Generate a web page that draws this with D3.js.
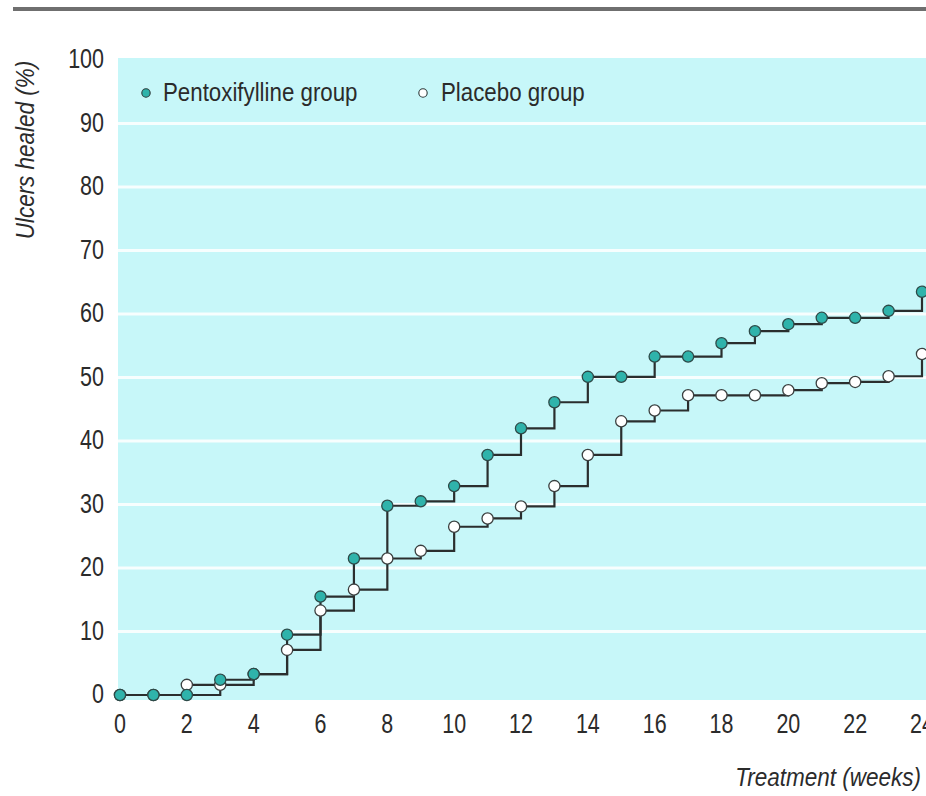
<!DOCTYPE html>
<html>
<head>
<meta charset="utf-8">
<script src="https://cdn.jsdelivr.net/npm/d3@7"></script>
<style>
  html, body { margin: 0; padding: 0; background: #fff; }
  svg { display: block; }
  text { font-family: "Liberation Sans", Arial, Helvetica, sans-serif; fill: #2b2b2b; }
</style>
</head>
<body>
<svg id="chart" width="926" height="796"></svg>
<script>
// ---- data ----
const weeks = [0,1,2,3,4,5,6,7,8,9,10,11,12,13,14,15,16,17,18,19,20,21,22,23,24];
const pentoxifylline = [0,0,0,2.4,3.3,9.5,15.5,21.5,29.8,30.5,32.9,37.8,42.0,46.1,50.1,50.1,53.3,53.3,55.4,57.3,58.4,59.4,59.4,60.5,63.5];
const placebo = [0,0,1.6,1.6,3.3,7.1,13.3,16.6,21.5,22.7,26.5,27.8,29.7,32.9,37.8,43.1,44.8,47.2,47.2,47.2,48.0,49.1,49.3,50.2,53.7];
const xTicks = [0,2,4,6,8,10,12,14,16,18,20,22,24];
const yTicks = [0,10,20,30,40,50,60,70,80,90,100];
const seriesNames = ["Pentoxifylline group", "Placebo group"];
const xTitle = "Treatment (weeks)";
const yTitle = "Ulcers healed (%)";

// ---- layout ----
const svg = d3.select("#chart");
const x = d3.scaleLinear().domain([0, 24]).range([120, 922]);
const y = d3.scaleLinear().domain([0, 100]).range([695, 60]);

const teal = "#2fb3ab";
const lineCol = "#2a2e2e";
const cyan = "#c7f7f9";

// top rule
svg.append("rect").attr("x", 13).attr("y", 7).attr("width", 926 - 13).attr("height", 4).attr("fill", "#6f6f6f");

// plot background
svg.append("rect")
  .attr("x", x(0) - 2).attr("y", y(100) - 2)
  .attr("width", 926 - (x(0) - 2)).attr("height", (y(0) + 5) - (y(100) - 2))
  .attr("fill", cyan);

// gridlines
svg.append("g").selectAll("line")
  .data(yTicks.filter(d => d > 0 && d < 100))
  .join("line")
  .attr("x1", x(0) - 2).attr("x2", 926)
  .attr("y1", d => y(d)).attr("y2", d => y(d))
  .attr("stroke", "#ffffff").attr("stroke-opacity", 0.85).attr("stroke-width", 3);

// y tick labels
svg.append("g").selectAll("text")
  .data(yTicks)
  .join("text")
  .attr("text-anchor", "end")
  .attr("font-size", 21.5)
  .attr("transform", d => `translate(104,${y(d) + 8}) scale(1,1.3)`)
  .text(d => d);

// x tick labels
svg.append("g").selectAll("text")
  .data(xTicks)
  .join("text")
  .attr("text-anchor", "middle")
  .attr("font-size", 21.5)
  .attr("transform", d => `translate(${x(d)},${733}) scale(1,1.3)`)
  .text(d => d);

// axis titles
svg.append("text")
  .attr("text-anchor", "end")
  .attr("font-size", 22.5)
  .attr("font-style", "italic")
  .attr("transform", `translate(921,786) scale(1,1.17)`)
  .text(xTitle);

svg.append("text")
  .attr("text-anchor", "middle")
  .attr("font-size", 22.5)
  .attr("font-style", "italic")
  .attr("transform", `translate(34,150) rotate(-90) scale(1,1.17)`)
  .text(yTitle);

// step lines
const pData = weeks.map((w, i) => ({w, v: pentoxifylline[i]}));
const cData = weeks.map((w, i) => ({w, v: placebo[i]}));
const line = d3.line().x(d => x(d.w)).y(d => y(d.v)).curve(d3.curveStepAfter);

svg.append("path").datum(cData).attr("d", line)
  .attr("fill", "none").attr("stroke", lineCol).attr("stroke-width", 2.2);
svg.append("path").datum(pData).attr("d", line)
  .attr("fill", "none").attr("stroke", lineCol).attr("stroke-width", 2.2);

// markers
svg.append("g").selectAll("circle").data(cData).join("circle")
  .attr("cx", d => x(d.w)).attr("cy", d => y(d.v)).attr("r", 5.6)
  .attr("fill", "#ffffff").attr("stroke", "#3a3f3f").attr("stroke-width", 1.3);
svg.append("g").selectAll("circle").data(pData).join("circle")
  .attr("cx", d => x(d.w)).attr("cy", d => y(d.v)).attr("r", 5.6)
  .attr("fill", teal).attr("stroke", "#2d4a48").attr("stroke-width", 1.3);

// legend
const legend = svg.append("g");
const legItems = [
  {name: seriesNames[0], fill: teal, mx: 146, tx: 163},
  {name: seriesNames[1], fill: "#ffffff", mx: 423, tx: 441}
];
legItems.forEach(it => {
  legend.append("circle").attr("cx", it.mx).attr("cy", 93).attr("r", 4.2)
    .attr("fill", it.fill).attr("stroke", "#2d3a3a").attr("stroke-width", 1.1);
  legend.append("text").attr("font-size", 22.3)
    .attr("transform", `translate(${it.tx},101) scale(1,1.15)`)
    .text(it.name);
});
</script>
</body>
</html>
